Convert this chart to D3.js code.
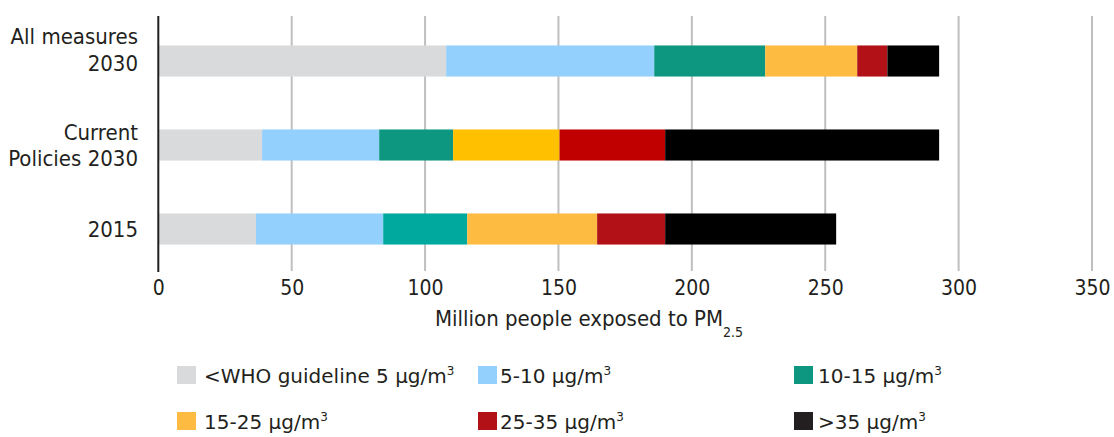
<!DOCTYPE html>
<html>
<head>
<meta charset="utf-8">
<script src="https://cdn.jsdelivr.net/npm/d3@7"></script>
<style>
  body { margin: 0; background: #fff; }
  svg text { font-family: "DejaVu Sans Condensed", "DejaVu Sans", sans-serif; font-stretch: condensed; fill: #231f20; }
  svg .legend text { font-family: "DejaVu Sans", sans-serif; font-stretch: normal; }
</style>
</head>
<body>
<div id="chart"></div>
<script>
// categories, top to bottom
var categories = ["All measures 2030", "Current Policies 2030", "2015"];
var categoryLines = [["All measures", "2030"], ["Current", "Policies 2030"], ["2015"]];

// series (million people per PM2.5 band), one value per category
var seriesNames = ["<WHO guideline 5", "5-10", "10-15", "15-25", "25-35", ">35"];
var below5   = [107.9, 38.9, 36.6];
var from5    = [78.0, 43.9, 47.7];
var from10   = [41.6, 27.7, 31.5];
var from15   = [34.5, 39.9, 48.7];
var from25   = [11.3, 39.6, 25.5];
var above35  = [19.4, 102.7, 64.1];

var xTicks = [0, 50, 100, 150, 200, 250, 300, 350];

// styling
var colors = ["#d9dadb", "#93d0fd", "#0e9780", "#fdbb42", "#b11117", "#000000"];
var rowColors = {
    "Current Policies 2030": { 3: "#ffc000", 4: "#c00000" },
    "2015": { 2: "#00a99d" }
};
var legendColors = ["#d9dadb", "#93d0fd", "#0e9780", "#fdbb42", "#b11117", "#231f20"];

var width = 1114, height = 437;
var svg = d3.select("#chart").append("svg")
    .attr("width", width)
    .attr("height", height);

var x = d3.scaleLinear().domain([0, 350]).range([158.3, 1092]);
var y = d3.scaleBand().domain(categories).range([19, 271])
    .paddingInner(0.63).paddingOuter(0.315);

// gridlines
svg.append("g").selectAll("line")
    .data(xTicks.filter(function(d){ return d > 0; }))
    .enter().append("line")
    .attr("x1", function(d){ return x(d); })
    .attr("x2", function(d){ return x(d); })
    .attr("y1", 16).attr("y2", 271)
    .attr("stroke", "#bfbfbf")
    .attr("stroke-width", 2);

// stack
var table = categories.map(function(c, i) {
    return { cat: c, v: [below5[i], from5[i], from10[i], from15[i], from25[i], above35[i]] };
});
var keys = d3.range(seriesNames.length);
var stacked = d3.stack()
    .keys(keys)
    .value(function(d, k){ return d.v[k]; })(table);

svg.append("g").selectAll("g")
    .data(stacked)
    .enter().append("g")
    .selectAll("rect")
    .data(function(s){ return s.map(function(p){ return { p: p, k: s.key }; }); })
    .enter().append("rect")
    .attr("x", function(d){ return x(d.p[0]); })
    .attr("width", function(d){ return x(d.p[1]) - x(d.p[0]); })
    .attr("y", function(d){ return y(d.p.data.cat); })
    .attr("height", y.bandwidth())
    .attr("fill", function(d){
        var o = rowColors[d.p.data.cat];
        return (o && o[d.k]) || colors[d.k];
    });

// y axis line
svg.append("line")
    .attr("x1", x(0)).attr("x2", x(0))
    .attr("y1", 16).attr("y2", 272)
    .attr("stroke", "#231f20")
    .attr("stroke-width", 2);

// x axis labels
var xAxis = svg.append("g")
    .attr("transform", "translate(0,278)")
    .call(d3.axisBottom(x).tickValues(xTicks).tickSize(0).tickPadding(0));
xAxis.select(".domain").remove();
xAxis.selectAll("text")
    .attr("dy", null)
    .attr("y", 17)
    .style("font-size", "21px")
    .style("font-family", null)
    .attr("fill", "#231f20");

// axis title
var title = svg.append("text")
    .attr("x", 435).attr("y", 326)
    .style("font-size", "22px");
title.append("tspan").text("Million people exposed to PM");
title.append("tspan").attr("dy", 11).style("font-size", "14px").text("2.5");

// category labels
var labelShift = [-11.6, 0, 0];
svg.append("g").selectAll("text")
    .data(categories)
    .enter().append("text")
    .attr("text-anchor", "end")
    .style("font-size", "22px")
    .each(function(c, i) {
        var lines = categoryLines[i];
        var cy = y(c) + y.bandwidth() / 2 + labelShift[i];
        d3.select(this).selectAll("tspan")
            .data(lines)
            .enter().append("tspan")
            .attr("x", 138)
            .attr("y", function(l, j){ return cy + (j - (lines.length - 1) / 2) * 26.7 + 8; })
            .text(function(l){ return l; });
    });

// legend
var legendX = [177, 478, 794];
var legendTextX = [204, 500, 818];
var legendY = [366, 412];
var legend = svg.append("g").attr("class", "legend").selectAll("g")
    .data(seriesNames)
    .enter().append("g");
legend.append("rect")
    .attr("x", function(d, i){ return legendX[i % 3]; })
    .attr("y", function(d, i){ return legendY[Math.floor(i / 3)]; })
    .attr("width", 19).attr("height", 18)
    .attr("fill", function(d, i){ return legendColors[i]; });
var lt = legend.append("text")
    .attr("x", function(d, i){ return legendTextX[i % 3]; })
    .attr("y", function(d, i){ return legendY[Math.floor(i / 3)] + 17; })
    .style("font-size", "20px");
lt.append("tspan").text(function(d){ return d + " \u00b5g/m"; });
lt.append("tspan").attr("dy", -8).style("font-size", "12px").text("3");
</script>
</body>
</html>
